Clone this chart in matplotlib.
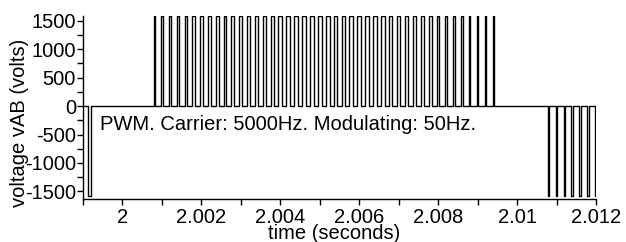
import matplotlib
matplotlib.use("Agg")
import matplotlib.pyplot as plt
from matplotlib.ticker import MultipleLocator, FuncFormatter

plt.rcParams['font.family'] = ['Liberation Sans', 'DejaVu Sans']
plt.rcParams['axes.unicode_minus'] = False

# ---- data ----
t_start = 1.999
t_end = 2.012
vdc = 1580.0

# positive half-cycle pulses: centre (ms after 2.0 s) and width (microseconds)
pos_center_ms = [0.8, 1.0, 1.2, 1.4, 1.6, 1.8, 2.0, 2.2, 2.4, 2.6, 2.8,
                 3.0, 3.2, 3.4, 3.6, 3.8, 4.0, 4.2, 4.4, 4.6, 4.8, 5.0,
                 5.2, 5.4, 5.6, 5.8, 6.0, 6.2, 6.4, 6.6, 6.8, 7.0, 7.2,
                 7.4, 7.6, 7.8, 8.0, 8.2, 8.4, 8.6, 8.8, 9.0, 9.2, 9.4]
pos_width_us = [25, 31, 36, 42, 48, 53, 58, 63, 68, 72, 76,
                80, 84, 87, 90, 92, 94, 96, 97, 98, 99, 99,
                99, 98, 97, 96, 94, 92, 90, 87, 84, 80, 76,
                72, 68, 63, 58, 53, 48, 42, 36, 31, 25, 19]

# negative half-cycle pulses
neg_center_ms = [-0.845, 10.8, 11.0, 11.2, 11.4, 11.6, 11.8, 12.0]
neg_width_us = [75, 25, 31, 36, 42, 48, 53, 58]

xlabel = "time (seconds)"
ylabel = "voltage vAB (volts)"
note = "PWM. Carrier: 5000Hz. Modulating: 50Hz."

# ---- build step waveform ----
pulses = []
for c, w in zip(pos_center_ms, pos_width_us):
    pulses.append((2.0 + c * 1e-3 - w * 0.5e-6, 2.0 + c * 1e-3 + w * 0.5e-6, vdc))
for c, w in zip(neg_center_ms, neg_width_us):
    pulses.append((2.0 + c * 1e-3 - w * 0.5e-6, 2.0 + c * 1e-3 + w * 0.5e-6, -vdc))
pulses.sort()

ts = [t_start]
vs = [0.0]
for s, e, lvl in pulses:
    ts += [s, s, e, e]
    vs += [0.0, lvl, lvl, 0.0]
ts.append(t_end)
vs.append(0.0)

# ---- figure ----
fig = plt.figure(figsize=(6.26, 2.42), dpi=100)
ax = fig.add_axes([83 / 626, 1 - 199.3 / 242, (596 - 83) / 626, (199.3 - 16) / 242])
ax.plot(ts, vs, color='black', lw=1.0)

ax.set_xlim(t_start, t_end)
ax.set_ylim(-1640, 1585)

for s in ['top', 'right']:
    ax.spines[s].set_visible(False)
for s in ['left', 'bottom']:
    ax.spines[s].set_linewidth(1.0)
    ax.spines[s].set_color('black')

ax.xaxis.set_major_locator(MultipleLocator(0.002))
ax.xaxis.set_minor_locator(MultipleLocator(0.001))
ax.xaxis.set_major_formatter(FuncFormatter(lambda v, p: '%g' % round(v, 6)))
ax.yaxis.set_major_locator(MultipleLocator(500))
ax.yaxis.set_minor_locator(MultipleLocator(250))

ax.tick_params(axis='both', which='both', direction='out', length=4, width=1,
               colors='black', labelsize=14.5)
ax.tick_params(axis='x', which='major', pad=2.5)
ax.tick_params(axis='y', which='major', pad=1)

fig.text(334 / 626, 1 - 233.5 / 242, xlabel, ha='center', va='center', fontsize=14.5)
fig.text(20 / 626, 1 - 123 / 242, ylabel, ha='center', va='center',
         rotation=90, fontsize=14.5)

ax.text((100 - 83) / 513, (199.3 - 125) / 183.3, note, transform=ax.transAxes,
        ha='left', va='center', fontsize=14.5)

fig.savefig("out.png", dpi=100)
